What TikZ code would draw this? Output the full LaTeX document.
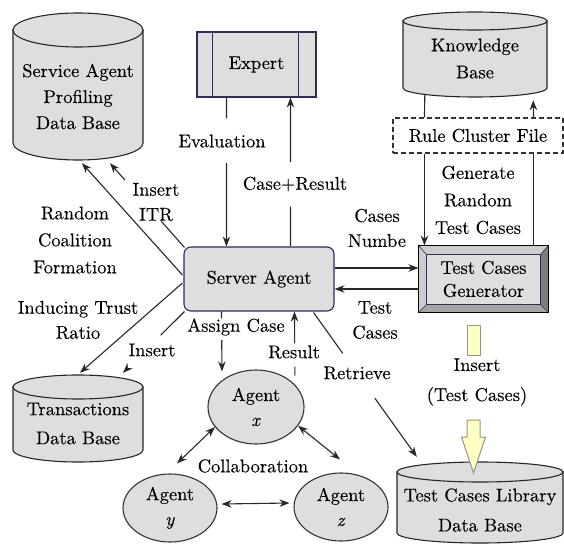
\documentclass[tikz,border=0pt]{standalone}
\usepackage{fontspec}
\setmainfont{lmroman10-regular.otf}[FakeBold=0.15, ItalicFont=lmroman10-italic.otf]
\usetikzlibrary{arrows.meta,calc,shapes.geometric}
\definecolor{boxfill}{RGB}{222,222,222}
\definecolor{navy}{RGB}{45,45,90}
\definecolor{linec}{RGB}{40,40,40}
\definecolor{yel}{RGB}{255,255,196}
\definecolor{yelb}{RGB}{150,150,130}
\definecolor{bevlight}{RGB}{205,205,205}
\definecolor{bevdark}{RGB}{125,125,125}
\definecolor{bevmid}{RGB}{165,165,165}
\newcommand\dbcyl[5]{%
  \pgfmathsetmacro\cylcx{(#1+#2)/2}%
  \pgfmathsetmacro\cylrx{(#2-#1)/2}%
  \filldraw[cyl] (#1,#3+#5) -- (#1,#4-#5) arc[start angle=180,end angle=0,x radius=\cylrx,y radius=#5] -- (#2,#3+#5) -- cycle;
  \filldraw[cyl] (\cylcx,#3+#5) ellipse[x radius=\cylrx,y radius=#5];
}
\tikzset{
 txt/.style={font=\fontsize{18.5}{25}\selectfont, align=center, inner sep=0pt},
 bbox/.style={draw=none, inner sep=0pt, rectangle},
 cyl/.style={fill=boxfill, draw=black!85, line width=1.1pt},
 conn/.style={draw=linec, line width=1.1pt},
 arr/.style={conn, -{Stealth[length=10pt,width=7.5pt]}},
 darr/.style={conn, {Stealth[length=10pt,width=7.5pt]}-{Stealth[length=10pt,width=7.5pt]}},
 box/.style={txt, draw=navy, fill=boxfill, line width=1.1pt},
 agent/.style={txt, ellipse, draw=black!80, fill=boxfill, line width=1.1pt},
 yarrow/.style={fill=yel, draw=yelb, line width=1pt},
}
\begin{document}
\begin{tikzpicture}[x=1pt,y=-1pt]
\useasboundingbox (0,0) rectangle (564,545);
% ---------- cylinders ----------
\dbcyl{13}{143}{13}{160}{17}
\node[bbox, minimum width=130pt, minimum height=147pt] (sap) at (78,86.5) {};
\node[txt, font=\fontsize{18.5}{26}\selectfont] (sapt) at ($(sap.center)+(0,10)$) {Service Agent\\Profiling\\Data Base};

\dbcyl{403}{547}{12}{97}{9}
\node[bbox, minimum width=144pt, minimum height=85pt] (kb) at (475,54.5) {};
\node[txt, font=\fontsize{18.5}{27}\selectfont] (kbt) at ($(kb.center)+(0,4)$) {Knowledge\\Base};

\dbcyl{13}{143}{375}{462}{12}
\node[bbox, minimum width=130pt, minimum height=87pt] (trans) at (78,418.5) {};
\node[txt, font=\fontsize{18.5}{29}\selectfont] (transt) at ($(trans.center)+(0,5)$) {Transactions\\Data Base};

\dbcyl{397}{563}{462}{543}{10}
\node[bbox, minimum width=166pt, minimum height=81pt] (tcl) at (480,502.5) {};
\node[txt, font=\fontsize{18.5}{30}\selectfont] (tclt) at ($(tcl.center)+(0,7.5)$) {Test Cases Library\\Data Base};

% ---------- boxes ----------
\node[box, minimum width=119pt, minimum height=65pt] (expert) at (256.5,64.5) {Expert};
\draw[navy, line width=1.1pt] ($(expert.north west)+(16,0)$) -- ($(expert.south west)+(16,0)$);
\draw[navy, line width=1.1pt] ($(expert.north east)+(-18,0)$) -- ($(expert.south east)+(-18,0)$);

\node[box, rounded corners=7pt, minimum width=150pt, minimum height=64pt] (server) at (259,279) {Server Agent};

\node[txt, draw=black!80, line width=1.1pt, dash pattern=on 5pt off 3pt, minimum width=170pt, minimum height=35pt] (rule) at (478,135.5) {Rule Cluster File};

\node[txt, font=\fontsize{18.5}{23}\selectfont, draw=black, fill=boxfill, line width=1.1pt, minimum width=129pt, minimum height=66pt] (tcg) at (483.5,279) {Test Cases\\Generator};
\fill[bevlight] (tcg.north west) -- (tcg.north east) -- ($(tcg.north east)+(-8,9)$) -- ($(tcg.north west)+(8,9)$) -- cycle;
\fill[bevlight] (tcg.north west) -- ($(tcg.north west)+(8,9)$) -- ($(tcg.south west)+(8,-8)$) -- (tcg.south west) -- cycle;
\fill[bevdark] (tcg.north east) -- (tcg.south east) -- ($(tcg.south east)+(-8,-8)$) -- ($(tcg.north east)+(-8,9)$) -- cycle;
\fill[bevmid] (tcg.south west) -- (tcg.south east) -- ($(tcg.south east)+(-8,-8)$) -- ($(tcg.south west)+(8,-8)$) -- cycle;
\draw[navy, line width=0.6pt] (tcg.north west) -- ($(tcg.north west)+(8,9)$) (tcg.north east) -- ($(tcg.north east)+(-8,9)$)
  (tcg.south west) -- ($(tcg.south west)+(8,-8)$) (tcg.south east) -- ($(tcg.south east)+(-8,-8)$);
\draw[navy, line width=1pt] ($(tcg.north west)+(8,9)$) rectangle ($(tcg.south east)+(-8,-8)$);
\draw[black, line width=1.1pt] (tcg.north west) rectangle (tcg.south east);

% ---------- agents ----------
\node[agent, minimum width=96pt, minimum height=74pt] (agentx) at (256,407) {Agent\\\textit{x}};
\node[agent, minimum width=94pt, minimum height=68pt] (agenty) at (170,508) {Agent\\\textit{y}};
\node[agent, minimum width=94pt, minimum height=68pt] (agentz) at (341,507) {Agent\\\textit{z}};

% ---------- labels ----------
\node[txt] (evallbl) at (222,141) {Evaluation};
\node[txt] (crlbl) at (295,184) {Case+Result};
\node[txt] (itrlbl) at (156,202) {Insert\\ITR};
\node[txt, font=\fontsize{18.5}{27}\selectfont] (rcflbl) at (75,240) {Random\\Coalition\\Formation};
\node[txt] (trustlbl) at (78,320) {Inducing Trust\\Ratio};
\node[txt] (inslbl) at (152,350) {Insert};
\node[txt] (cnlbl) at (377,228) {Cases\\Numbe};
\node[txt] (tclbl) at (375,320) {Test\\Cases};
\node[txt, font=\fontsize{18.5}{27.5}\selectfont] (genlbl) at (478,200) {Generate\\Random\\Test Cases};
\node[txt] (aclbl) at (236,327) {Assign Case};
\node[txt] (reslbl) at (294,352) {Result};
\node[txt] (retlbl) at (357,373) {Retrieve};
\node[txt, font=\fontsize{18.5}{30}\selectfont] (ins2lbl) at (477,382) {Insert\\(Test Cases)};
\node[txt] (collbl) at (253,466) {Collaboration};

% ---------- connectors ----------
% Evaluation
\coordinate (aS) at ($(expert.south west)+(30,0)$);
\coordinate (aE) at ($(server.north west)+(43,0)$);
\draw[conn] (aS) -- ($(aS)!0.14!(aE)$);
\draw[arr] ($(aS)!0.44!(aE)$) -- (aE);
% Case+Result
\coordinate (bS) at ($(server.north west)+(107,0)$);
\coordinate (bE) at ($(expert.south west)+(94,0)$);
\draw[conn] (bS) -- ($(bS)!0.267!(bE)$);
\draw[arr] ($(bS)!0.567!(bE)$) -- (bE);
% Insert ITR
\coordinate (cS) at ($(server.north west)+(1,1)$);
\coordinate (cE) at ($(sap.south)+(32,3)$);
\draw[conn] (cS) -- ($(cS)!0.31!(cE)$);
\draw[arr] ($(cS)!0.8!(cE)$) -- (cE);
% Random coalition formation
\draw[arr] ($(server.west)+(-1,-4)$) -- ($(sap.south)+(4,3)$);
% Inducing trust ratio
\draw[arr] ($(server.west)+(-1,4)$) -- ($(trans.north)+(2,-2)$);
% Insert (transactions)
\coordinate (fS) at ($(server.south west)+(1,0)$);
\coordinate (fE) at ($(trans.north)+(45,-2)$);
\draw[conn] (fS) -- ($(fS)!0.387!(fE)$);
\draw[arr] ($(fS)!0.92!(fE)$) -- (fE);
% Assign case
\coordinate (gS) at ($(server.south west)+(38,0)$);
\coordinate (gE) at ($(agentx.north)+(-34,2)$);
\draw[conn] (gS) -- ($(gS)!0.115!(gE)$);
\draw[arr] ($(gS)!0.475!(gE)$) -- (gE);
% Result
\coordinate (hS) at ($(agentx.north)+(39,15)$);
\coordinate (hE) at ($(server.south west)+(111,0)$);
\draw[conn] ($(hS)!0.12!(hE)$) -- ($(hS)!0.243!(hE)$);
\draw[arr] ($(hS)!0.567!(hE)$) -- (hE);
% Retrieve
\coordinate (iS) at ($(server.south east)+(-21,1)$);
\coordinate (iE) at ($(tcl.north west)+(20,-5)$);
\draw[conn] (iS) -- ($(iS)!0.283!(iE)$);
\draw[arr] ($(iS)!0.593!(iE)$) -- (iE);
% Cases number / Test cases
\draw[arr] ($(server.east)+(0,-11)$) -- ($(tcg.west)+(0,-11)$);
\draw[arr] ($(tcg.west)+(0,10)$) -- ($(server.east)+(0,10)$);
% Knowledge base / rule cluster / generator
\draw[conn] ($(kb.south west)+(22,-2)$) -- ($(rule.north west)+(32,0)$);
\draw[arr] ($(rule.south west)+(32,0)$) -- ($(tcg.north west)+(6,0)$);
\draw[conn] ($(tcg.north east)+(-15,0)$) -- ($(rule.south east)+(-30,0)$);
\draw[arr] ($(rule.north east)+(-30,0)$) -- ($(kb.south east)+(-14,3)$);
% Collaboration
\draw[darr] (agentx.206) -- ($(agenty.north)+(7,-10)$);
\draw[darr] (agentx.336) -- ($(agentz.north)+(-1,-13)$);
\draw[darr] ($(agenty.east)+(4,-4)$) -- ($(agentz.west)+(-4,-4)$);
% Insert (test cases) big arrow
\filldraw[yarrow] (467,325) rectangle (480,355);
\filldraw[yarrow] (467,420) -- (480,420) -- (480,437) -- (485.5,437) -- (473.5,473) -- (461.5,437) -- (467,437) -- cycle;
\end{tikzpicture}
\end{document}
